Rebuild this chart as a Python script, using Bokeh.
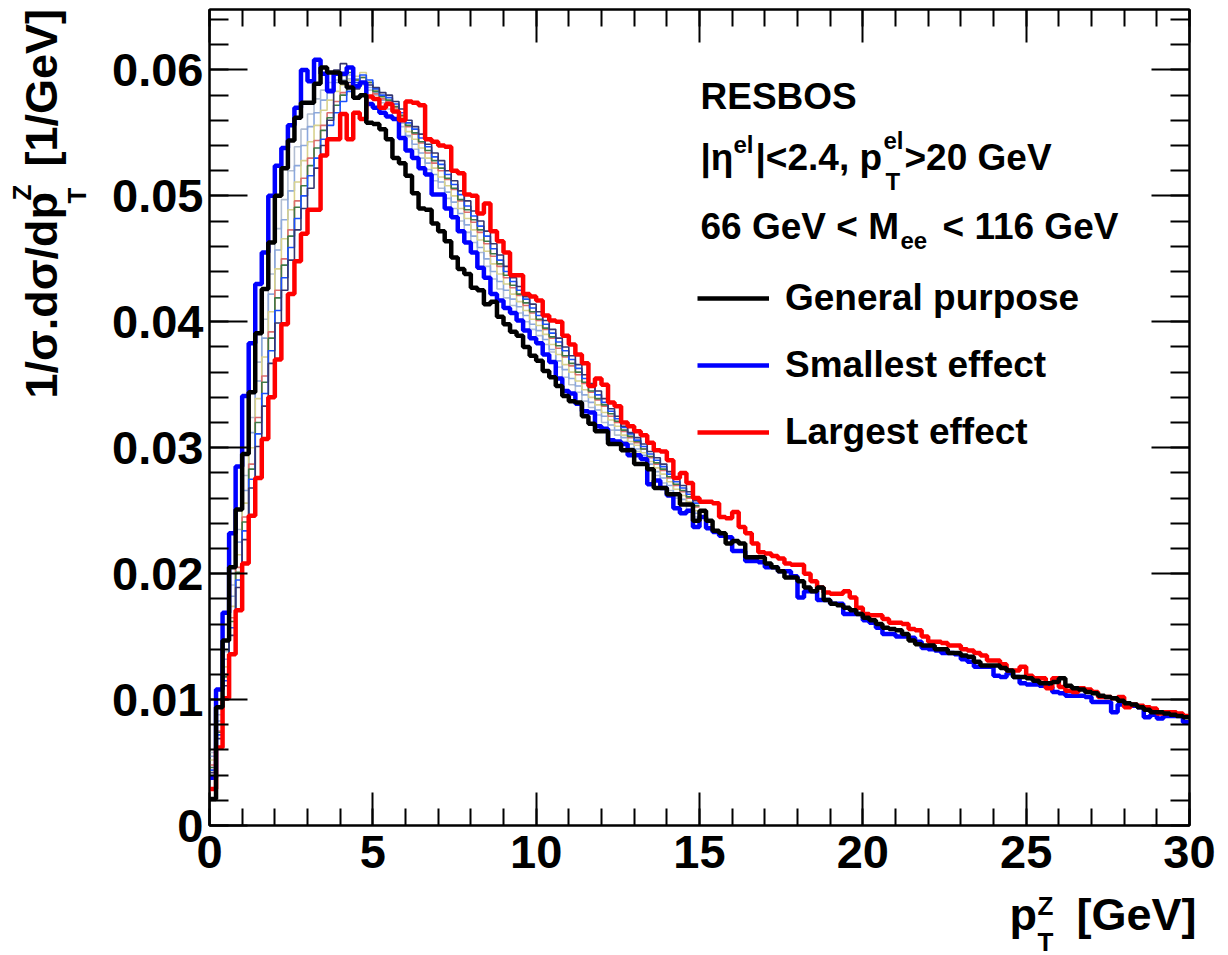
from math import pi
from bokeh.plotting import figure
from bokeh.layouts import row, column
from bokeh.models import Range1d, LinearAxis, SingleIntervalTicker, Label, Legend, LegendItem
from bokeh.embed import file_html
from bokeh.resources import INLINE

# ---------------- data (1/sigma dsigma/dpT, bins of 0.2 GeV from 0 to 30 GeV) ----------------
PT_MIN = 0.0
BIN_WIDTH = 0.2

general_purpose = [
    .0021, .0094, .0147, .0205, .0251, .0295, .0344, .0391, .0426, .0463,
    .0500, .0522, .0544, .0562, .0574, .0574, .0589, .0602, .0598, .0598,
    .0590, .0586, .0578, .0580, .0558, .0557, .0553, .0545, .0530, .0526,
    .0516, .0502, .0490, .0489, .0478, .0472, .0464, .0451, .0442, .0438,
    .0427, .0425, .0414, .0416, .0404, .0398, .0392, .0389, .0380, .0373,
    .0369, .0361, .0356, .0349, .0341, .0337, .0336, .0325, .0319, .0313,
    .0313, .0303, .0303, .0298, .0298, .0287, .0287, .0283, .0268, .0268,
    .0263, .0263, .0255, .0255, .0242, .0250, .0242, .0234, .0232, .0224,
    .0226, .0224, .0213, .0213, .0213, .0208, .0205, .0202, .0197, .0197,
    .0194, .0189, .0186, .0189, .0179, .0176, .0175, .0173, .0171, .0168,
    .0165, .0163, .0160, .0157, .0156, .0155, .0152, .0147, .0144, .0143,
    .0143, .0140, .0140, .0137, .0137, .0135, .0134, .0130, .0127, .0127,
    .0127, .0125, .0123, .0118, .0118, .0117, .0115, .0113, .0113, .0114,
    .0117, .0111, .0109, .0108, .0106, .0105, .0103, .0102, .0101, .0099,
    .0097, .0096, .0094, .0092, .0090, .0090, .0089, .0088, .0087, .0086,
]

smallest_effect = [
    .0038, .0108, .0169, .0232, .0285, .0341, .0383, .0430, .0455, .0500,
    .0524, .0538, .0556, .0570, .0600, .0591, .0608, .0597, .0583, .0597,
    .0597, .0602, .0587, .0590, .0573, .0570, .0566, .0563, .0561, .0546,
    .0536, .0530, .0522, .0517, .0501, .0501, .0490, .0483, .0472, .0463,
    .0455, .0443, .0435, .0422, .0417, .0411, .0407, .0401, .0393, .0387,
    .0383, .0374, .0368, .0355, .0345, .0343, .0335, .0329, .0328, .0317,
    .0315, .0306, .0305, .0303, .0294, .0294, .0291, .0271, .0274, .0268,
    .0262, .0252, .0248, .0250, .0237, .0245, .0236, .0233, .0230, .0229,
    .0218, .0218, .0210, .0210, .0209, .0205, .0205, .0202, .0202, .0198,
    .0181, .0186, .0186, .0179, .0179, .0176, .0176, .0168, .0168, .0168,
    .0163, .0161, .0157, .0152, .0152, .0150, .0150, .0149, .0146, .0141,
    .0140, .0139, .0137, .0137, .0136, .0132, .0130, .0126, .0126, .0126,
    .0119, .0118, .0121, .0118, .0113, .0112, .0112, .0111, .0110, .0106,
    .0105, .0103, .0103, .0103, .0102, .0098, .0098, .0098, .0090, .0096,
    .0096, .0095, .0094, .0086, .0088, .0085, .0087, .0087, .0087, .0082,
]

largest_effect = [
    .0029, .0062, .0101, .0136, .0171, .0208, .0246, .0276, .0307, .0340,
    .0370, .0398, .0422, .0448, .0470, .0489, .0489, .0532, .0545, .0545,
    .0565, .0545, .0566, .0561, .0579, .0577, .0570, .0573, .0567, .0560,
    .0575, .0574, .0572, .0545, .0543, .0540, .0539, .0520, .0518, .0501,
    .0500, .0486, .0494, .0472, .0464, .0455, .0437, .0437, .0422, .0420,
    .0417, .0405, .0401, .0400, .0389, .0382, .0374, .0367, .0349, .0355,
    .0350, .0336, .0333, .0320, .0317, .0313, .0310, .0304, .0298, .0297,
    .0290, .0276, .0280, .0272, .0260, .0257, .0257, .0256, .0245, .0244,
    .0249, .0237, .0232, .0224, .0217, .0216, .0214, .0212, .0208, .0207,
    .0207, .0200, .0194, .0189, .0185, .0184, .0184, .0186, .0181, .0173,
    .0168, .0167, .0167, .0164, .0161, .0161, .0160, .0156, .0155, .0150,
    .0146, .0146, .0145, .0143, .0143, .0140, .0139, .0137, .0135, .0131,
    .0131, .0128, .0123, .0123, .0126, .0119, .0117, .0117, .0109, .0117,
    .0110, .0107, .0106, .0109, .0108, .0106, .0102, .0102, .0101, .0102,
    .0094, .0096, .0095, .0094, .0093, .0089, .0090, .0090, .0089, .0087,
]

# other parameter sets (thin lines, visible between 0 and 15 GeV)
variation_a = [
    .0058, .0088, .0138, .0191, .0235, .0278, .0324, .0368, .0402, .0438,
    .0474, .0497, .0520, .0539, .0553, .0565, .0577, .0584, .0590, .0592,
    .0595, .0593, .0590, .0588, .0584, .0580, .0574, .0569, .0562, .0555,
    .0547, .0537, .0530, .0521, .0512, .0506, .0498, .0490, .0480, .0471,
    .0463, .0455, .0444, .0434, .0426, .0419, .0413, .0407, .0400, .0394,
    .0389, .0382, .0376, .0364, .0356, .0350, .0344, .0337, .0332, .0326,
    .0320, .0314, .0310, .0305, .0300, .0297, .0291, .0284, .0278, .0272,
    .0266, .0260, .0255, .0251, .0245,
]
variation_b = [
    .0055, .0083, .0132, .0182, .0225, .0266, .0312, .0353, .0387, .0422,
    .0457, .0481, .0504, .0524, .0540, .0555, .0566, .0576, .0585, .0590,
    .0592, .0596, .0593, .0590, .0586, .0582, .0576, .0572, .0566, .0558,
    .0548, .0541, .0534, .0526, .0517, .0511, .0503, .0495, .0486, .0477,
    .0468, .0459, .0450, .0440, .0432, .0425, .0418, .0412, .0405, .0398,
    .0393, .0386, .0378, .0369, .0362, .0355, .0349, .0342, .0336, .0330,
    .0325, .0318, .0314, .0308, .0303, .0299, .0294, .0287, .0281, .0276,
    .0270, .0264, .0259, .0254, .0248,
]
variation_c = [
    .0052, .0080, .0126, .0174, .0215, .0256, .0300, .0339, .0372, .0408,
    .0442, .0466, .0489, .0511, .0528, .0543, .0556, .0568, .0576, .0583,
    .0588, .0592, .0595, .0598, .0590, .0584, .0578, .0575, .0569, .0562,
    .0551, .0545, .0538, .0530, .0522, .0515, .0508, .0500, .0490, .0482,
    .0473, .0465, .0456, .0446, .0438, .0430, .0422, .0416, .0409, .0402,
    .0397, .0390, .0382, .0374, .0366, .0360, .0353, .0346, .0340, .0334,
    .0328, .0322, .0317, .0310, .0305, .0302, .0296, .0289, .0284, .0279,
    .0273, .0267, .0262, .0257, .0250,
]
variation_d = [
    .0048, .0075, .0120, .0165, .0205, .0245, .0287, .0324, .0357, .0392,
    .0425, .0450, .0473, .0496, .0514, .0530, .0544, .0556, .0566, .0575,
    .0582, .0588, .0592, .0594, .0590, .0581, .0577, .0575, .0570, .0563,
    .0555, .0549, .0542, .0534, .0526, .0520, .0513, .0505, .0496, .0487,
    .0479, .0471, .0462, .0452, .0444, .0435, .0427, .0421, .0413, .0407,
    .0401, .0394, .0387, .0379, .0372, .0365, .0358, .0351, .0344, .0338,
    .0333, .0325, .0320, .0313, .0308, .0304, .0299, .0292, .0287, .0282,
    .0276, .0270, .0265, .0260, .0253,
]
variation_e = [
    .0046, .0074, .0118, .0162, .0201, .0241, .0283, .0320, .0352, .0387,
    .0419, .0445, .0468, .0491, .0508, .0524, .0538, .0552, .0562, .0572,
    .0580, .0598, .0592, .0594, .0590, .0583, .0579, .0576, .0571, .0564,
    .0556, .0550, .0543, .0536, .0528, .0522, .0514, .0506, .0497, .0489,
    .0481, .0473, .0464, .0454, .0446, .0437, .0429, .0422, .0415, .0408,
    .0402, .0395, .0388, .0381, .0373, .0367, .0360, .0352, .0345, .0339,
    .0334, .0327, .0321, .0314, .0309, .0305, .0299, .0293, .0288, .0283,
    .0277, .0271, .0266, .0261, .0254,
]
variation_f = [
    .0044, .0072, .0115, .0157, .0195, .0234, .0275, .0311, .0343, .0377,
    .0409, .0435, .0459, .0482, .0500, .0516, .0530, .0545, .0556, .0566,
    .0575, .0583, .0590, .0596, .0592, .0585, .0580, .0578, .0573, .0566,
    .0558, .0553, .0546, .0539, .0531, .0525, .0517, .0509, .0501, .0492,
    .0484, .0476, .0468, .0458, .0449, .0440, .0432, .0425, .0418, .0411,
    .0405, .0398, .0391, .0384, .0377, .0370, .0363, .0355, .0348, .0342,
    .0336, .0329, .0323, .0316, .0311, .0306, .0301, .0295, .0290, .0285,
    .0279, .0273, .0268, .0263, .0256,
]
variation_g = [
    .0042, .0069, .0111, .0151, .0189, .0227, .0268, .0301, .0333, .0367,
    .0399, .0425, .0449, .0473, .0490, .0506, .0522, .0540, .0560, .0600,
    .0605, .0590, .0585, .0590, .0588, .0586, .0582, .0580, .0575, .0569,
    .0560, .0555, .0549, .0541, .0534, .0528, .0520, .0512, .0504, .0496,
    .0488, .0480, .0472, .0462, .0453, .0444, .0435, .0428, .0420, .0414,
    .0408, .0401, .0394, .0387, .0380, .0373, .0366, .0358, .0351, .0345,
    .0339, .0331, .0325, .0317, .0312, .0308, .0303, .0297, .0292, .0287,
    .0281, .0275, .0270, .0265, .0258,
]

variations = [variation_a, variation_b, variation_c, variation_d,
              variation_e, variation_f, variation_g]
variation_colors = ["#b2bed2", "#8ca8dc", "#d8d28e", "#dc6e6e",
                    "#3e7a46", "#1a50ff", "#36366e"]

legend_labels = ["General purpose", "Smallest effect", "Largest effect"]
x_ticks_major = 5
y_ticks_major = 0.01

FONT = "Liberation Sans"

# ---------------- page geometry ----------------
TOTAL_W, TOTAL_H = 1220, 955
YT_W = 100                    # width of the y-title strip
FRAME_L, FRAME_T = 109, 9     # frame offsets inside the main canvas
FRAME_W, FRAME_H = 980, 816
BOTTOM_B = 90
MAIN_W = TOTAL_W - YT_W
MAIN_H = FRAME_T + FRAME_H + BOTTOM_B
XT_TOP = 875                  # page y where the x-title strip starts
XT_H = TOTAL_H - XT_TOP
BASE_SHIFT = 0.29             # label baseline correction (fraction of font size)


def step_xy(vals):
    xs = [PT_MIN + BIN_WIDTH * i for i in range(len(vals) + 1)]
    ys = list(vals) + [vals[-1]]
    return xs, ys


p = figure(frame_width=FRAME_W, frame_height=FRAME_H,
           x_range=Range1d(0, 30), y_range=Range1d(0, 0.0648),
           output_backend="svg", toolbar_location=None,
           min_border_left=FRAME_L, min_border_right=MAIN_W - FRAME_L - FRAME_W,
           min_border_top=FRAME_T, min_border_bottom=BOTTOM_B,
           background_fill_color="white", border_fill_color="white")
p.grid.visible = False
p.outline_line_color = "black"
p.outline_line_width = 2

# axes
xa = p.xaxis[0]
ya = p.yaxis[0]
xa.ticker = SingleIntervalTicker(interval=x_ticks_major, num_minor_ticks=5)
ya.ticker = SingleIntervalTicker(interval=y_ticks_major, num_minor_ticks=5)
for ax, mj, mn in [(xa, 33, 17), (ya, 38, 19)]:
    ax.major_tick_in = mj
    ax.major_tick_out = 0
    ax.minor_tick_in = mn
    ax.minor_tick_out = 0
    ax.axis_line_width = 2
    ax.major_tick_line_width = 2
    ax.minor_tick_line_width = 2
    ax.major_label_text_font = FONT
    ax.major_label_text_font_style = "bold"
    ax.major_label_text_font_size = "47px"
    ax.major_label_text_color = "black"
ya.major_label_standoff = 6
xa.major_label_standoff = 10
ya.major_label_overrides = {0: "0"}

# mirrored tick marks on the top and right edges (no labels)
top_ax = LinearAxis(ticker=SingleIntervalTicker(interval=x_ticks_major, num_minor_ticks=5))
right_ax = LinearAxis(ticker=SingleIntervalTicker(interval=y_ticks_major, num_minor_ticks=5))
for ax, mj, mn in [(top_ax, 33, 17), (right_ax, 38, 19)]:
    ax.major_tick_in = mj
    ax.major_tick_out = 0
    ax.minor_tick_in = mn
    ax.minor_tick_out = 0
    ax.axis_line_width = 2
    ax.major_tick_line_width = 2
    ax.minor_tick_line_width = 2
    ax.major_label_text_font_size = "1px"
    ax.major_label_text_color = None
    ax.major_label_standoff = 0
p.add_layout(top_ax, "above")
p.add_layout(right_ax, "right")

# histograms
for vals, col in zip(variations, variation_colors):
    xs, ys = step_xy(vals)
    p.step(xs, ys, mode="after", line_color=col, line_width=1.6)

xs, ys = step_xy(smallest_effect)
r_blue = p.step(xs, ys, mode="after", line_color="#0000ff", line_width=4.5)
xs, ys = step_xy(largest_effect)
r_red = p.step(xs, ys, mode="after", line_color="#ff0000", line_width=4.5)
xs, ys = step_xy(general_purpose)
r_black = p.step(xs, ys, mode="after", line_color="#000000", line_width=4.5)

legend = Legend(items=[LegendItem(label=legend_labels[0], renderers=[r_black]),
                       LegendItem(label=legend_labels[1], renderers=[r_blue]),
                       LegendItem(label=legend_labels[2], renderers=[r_red])],
                location=(697 - 209, 372),
                label_text_font=FONT, label_text_font_style="bold",
                label_text_font_size="37px", label_text_color="black",
                glyph_width=72, glyph_height=40, label_height=40,
                label_standoff=16, spacing=25, padding=0, margin=0,
                border_line_alpha=0, background_fill_alpha=0)
p.add_layout(legend)


def put(fig, text, x, y, size, angle=0.0):
    fig.add_layout(Label(x=x, y=y, x_units="screen", y_units="screen",
                         text=text, angle=angle, text_font=FONT,
                         text_font_style="bold", text_font_size=f"{size}px",
                         text_color="black", text_align="left",
                         text_baseline="alphabetic"))


def put_main(text, px, py, size):
    # page coords -> main-frame screen coords
    put(p, text, px - (YT_W + FRAME_L),
        (FRAME_T + FRAME_H) - py + round(BASE_SHIFT * size), size)


# annotation block
put_main("RESBOS", 700, 107, 37)
put_main("|\u03b7", 700, 168, 37)
put_main("el", 733, 151, 24)
put_main("|<2.4, p", 755, 168, 37)
put_main("el", 883, 147, 24)
put_main("T", 885, 188, 24)
put_main(">20 GeV", 904, 168, 37)
put_main("66 GeV < M", 700, 237, 37)
put_main("ee", 900, 247, 24)
put_main("< 116 GeV", 942, 237, 37)

# y title strip (left of the main plot)
yt = figure(width=YT_W, height=MAIN_H, x_range=Range1d(0, 1), y_range=Range1d(0, 1),
            x_axis_location=None, y_axis_location=None, toolbar_location=None,
            output_backend="svg", min_border=0, outline_line_color=None,
            background_fill_color="white", border_fill_color="white")
yt.grid.visible = False


def put_yt(text, px, py, size):
    put(yt, text, px - round(BASE_SHIFT * size), MAIN_H - py, size, pi / 2)


put_yt("1/\u03c3.d\u03c3/dp", 54, 398, 45)
put_yt("Z", 29, 200, 26)
put_yt("T", 84, 203, 26)
put_yt("[1/GeV]", 54, 166, 45)

# x title strip (full width, pulled up under the tick labels)
xt = figure(width=TOTAL_W, height=XT_H, x_range=Range1d(0, 1), y_range=Range1d(0, 1),
            x_axis_location=None, y_axis_location=None, toolbar_location=None,
            output_backend="svg", min_border=0, outline_line_color=None,
            background_fill_alpha=0, border_fill_alpha=0,
            margin=(XT_TOP - MAIN_H, 0, 0, 0))
xt.grid.visible = False


def put_xt(text, px, py, size):
    put(xt, text, px, TOTAL_H - py + round(BASE_SHIFT * size), size)


put_xt("p", 1009, 927, 45)
put_xt("Z", 1037, 913, 26)
put_xt("T", 1037, 949, 26)
put_xt("[GeV]", 1076, 927, 45)

# wrapping the y strip in its own column keeps its frame independent of the main plot's frame
layout = column(row(column(yt), p, spacing=0), xt, spacing=0)
open("out.html", "w").write(file_html(layout, INLINE))
